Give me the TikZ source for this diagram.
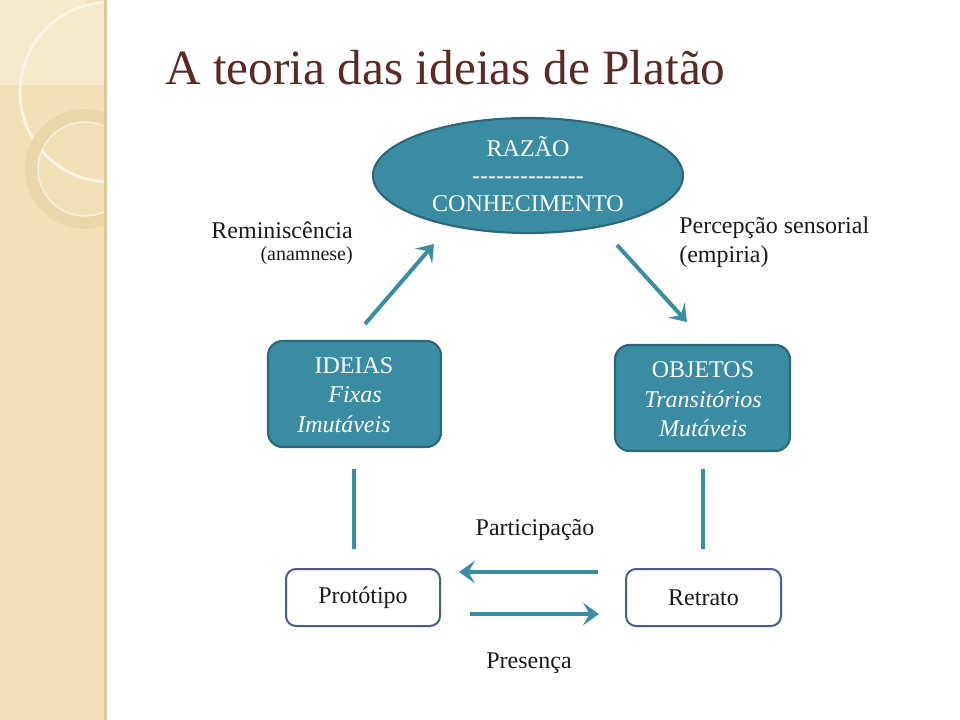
\documentclass[tikz,border=0pt]{standalone}
\usepackage{fontspec}
\setmainfont{Liberation Serif}
\newfontfamily\plainfont{Liberation Serif}
\usetikzlibrary{shapes.geometric,arrows.meta}
\definecolor{side}{HTML}{F2E1B6}
\definecolor{sidelight}{HTML}{F6EACB}
\definecolor{ringc}{HTML}{E9D7AA}
\definecolor{sideedge}{HTML}{D9C79A}
\definecolor{titlec}{HTML}{5B2A26}
\definecolor{tealf}{HTML}{3A8CA2}
\definecolor{tealb}{HTML}{2B6878}
\definecolor{arrowc}{HTML}{3A8EA1}
\definecolor{slate}{HTML}{4D5B8C}
\definecolor{txt}{HTML}{1A1A1A}
\tikzset{
  tealbox/.style={draw=tealb, line width=1.6pt, fill=tealf, rounded corners=11pt, inner sep=0pt},
  whitebox/.style={draw=slate, line width=1.5pt, fill=white, rounded corners=7.5pt, inner sep=0pt},
  wtext/.style={text=white, font=\fontsize{18}{21}\selectfont, inner sep=0pt},
  btext/.style={text=txt, font=\fontsize{18}{21}\selectfont, inner sep=0pt},
  conn/.style={draw=arrowc, line width=3pt},
  arr/.style={conn, -{Stealth[length=12pt,width=17pt,inset=5pt]}},
}
\begin{document}
\begin{tikzpicture}[x=0.75pt,y=-0.75pt]
\useasboundingbox (0,0) rectangle (960,720);
% sidebar
\fill[side] (0,0) rectangle (105,720);
\begin{scope}
\clip (0,0) rectangle (105,720);
\fill[sidelight] (0,0) rectangle (87,85);
\begin{scope}
\clip (0,0) rectangle (105,85);
\fill[sidelight] (110,92) circle (90);
\end{scope}
\draw[white!70!side, line width=2pt] (110,92) circle (90);
\fill[ringc, even odd rule] (85,169) circle (60) (85,169) circle (47);
\draw[white!60!side, line width=1pt] (85,169) circle (47);
\end{scope}
\fill[sideedge] (104,0) rectangle (107,720);
% title
\node[anchor=base west, text=titlec, font=\fontsize{37}{40}\selectfont, inner sep=0pt] (title) at (165,85) {A teoria das ideias de Platão};
% ellipse
\node[ellipse, draw=tealb, line width=1.6pt, fill=tealf, minimum width=232.5pt, minimum height=86.25pt, inner sep=0pt] (razao) at (528,175.5) {};
\node[wtext] (t1) at (528,147) {RAZÃO};
\node[text=white, inner sep=0pt, font=\plainfont\fontsize{18}{20}\selectfont] (t2) at (528,180) {--------------};
\node[wtext] (t3) at (528,204) {CONHECIMENTO};
% boxes
\node[tealbox, minimum width=129.75pt, minimum height=79.5pt] (ideias) at (354.5,394) {};
\node[wtext] (i1) at (354,366) {IDEIAS};
\node[wtext, font=\itshape\fontsize{18}{21}\selectfont] (i2) at (355,395) {Fixas};
\node[wtext, font=\itshape\fontsize{18}{21}\selectfont] (i3) at (344,424) {Imutáveis};
\node[tealbox, minimum width=131.25pt, minimum height=79.5pt] (objetos) at (702.5,398) {};
\node[wtext] (o1) at (703,370) {OBJETOS};
\node[wtext, font=\itshape\fontsize{18}{21}\selectfont] (o2) at (703,399) {Transitórios};
\node[wtext, font=\itshape\fontsize{18}{21}\selectfont] (o3) at (703,428) {Mutáveis};
\node[whitebox, minimum width=115.5pt, minimum height=42.75pt, btext] (proto) at (363,597.5) {Protótipo};
\node[whitebox, minimum width=116.25pt, minimum height=42.75pt, btext] (retrato) at (703.5,597.5) {Retrato};
% labels
\node[btext, anchor=east] (rem) at (353,230) {Reminiscência};
\node[btext, anchor=east, font=\fontsize{15}{17}\selectfont] (ana) at (353,256) {(anamnese)};
\node[btext, anchor=west] (perc) at (679,228) {Percepção sensorial};
\node[btext, anchor=west] (emp) at (679,257) {(empiria)};
\node[btext] (part) at (535,530) {Participação};
\node[btext] (pres) at (529,663) {Presença};
% connector end points
\coordinate (a1s) at (365,324); \coordinate (a1e) at (434,244);
\coordinate (a2s) at (617,245); \coordinate (a2e) at (687,322);
\coordinate (v1s) at (354,469); \coordinate (v1e) at (354,549);
\coordinate (v2s) at (703,469); \coordinate (v2e) at (703,549);
\coordinate (h1s) at (598,572); \coordinate (h1e) at (459,572);
\coordinate (h2s) at (470,614); \coordinate (h2e) at (599,614);
\draw[arr] (a1s) -- (a1e);
\draw[arr] (a2s) -- (a2e);
\draw[conn] (v1s) -- (v1e);
\draw[conn] (v2s) -- (v2e);
\draw[arr] (h1s) -- (h1e);
\draw[arr] (h2s) -- (h2e);
\end{tikzpicture}
\end{document}
